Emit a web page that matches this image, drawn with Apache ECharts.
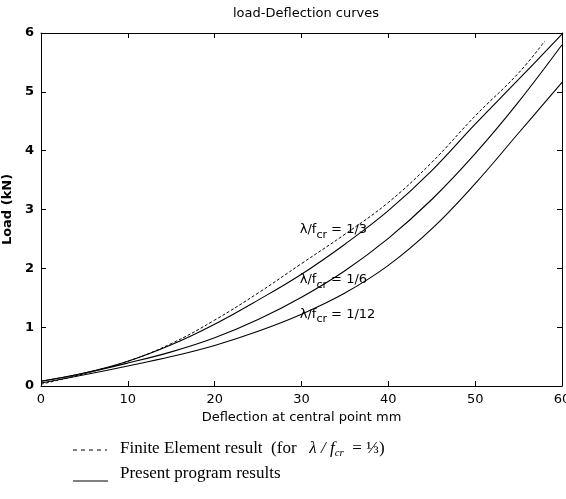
<!DOCTYPE html>
<html>
<head>
<meta charset="utf-8">
<script src="https://cdn.jsdelivr.net/npm/echarts@6/dist/echarts.min.js"></script>
<style>html,body{margin:0;padding:0;background:#fff;}#c{width:566px;height:499px;}</style>
</head>
<body>
<div id="c"></div>
<script>
// Data
const feX    = [0, 5, 10, 15, 20, 25, 30, 35, 40, 45, 50, 55, 58];
const feY    = [0.03, 0.21, 0.42, 0.72, 1.12, 1.58, 2.08, 2.58, 3.12, 3.8, 4.59, 5.32, 5.86];
const defX   = [0, 5, 10, 15, 20, 25, 30, 35, 40, 45, 50, 55, 60];
const r3Y    = [0.08, 0.22, 0.42, 0.7, 1.05, 1.46, 1.9, 2.41, 2.98, 3.66, 4.45, 5.21, 5.98];
const r6Y    = [0.08, 0.22, 0.39, 0.58, 0.82, 1.13, 1.51, 1.96, 2.51, 3.17, 3.95, 4.83, 5.8];
const r12Y   = [0.05, 0.19, 0.34, 0.5, 0.69, 0.93, 1.22, 1.58, 2.05, 2.67, 3.44, 4.3, 5.16];
const curveLabels = ['1/3', '1/6', '1/12'];
const labelAnchors = [[29.8, 2.65], [29.8, 1.8], [29.8, 1.22]];
const xTicks = [0, 10, 20, 30, 40, 50, 60];
const yTicks = [0, 1, 2, 3, 4, 5, 6];

const pair = (xs, ys) => xs.map((x, i) => [x, ys[i]]);
const chart = echarts.init(document.getElementById('c'));
const sans = 'DejaVu Sans, Liberation Sans, sans-serif';
const serif = 'Liberation Serif, DejaVu Serif, serif';

const axisCommon = {
  type: 'value',
  axisLine: { show: true, onZero: false, lineStyle: { color: '#000', width: 1 } },
  axisTick: { show: true, inside: true, length: 5, lineStyle: { color: '#000' } },
  splitLine: { show: false }
};

const lineSeries = (name, data, dashed) => ({
  name, type: 'line', data, smooth: 0.4, symbol: 'none',
  xAxisIndex: 0, yAxisIndex: 0,
  lineStyle: { color: '#000', width: dashed ? 1 : 1.1, type: dashed ? [3, 2] : 'solid' },
  z: dashed ? 3 : 2
});

chart.setOption({
  animation: false,
  title: {
    text: 'load-Deflection curves', left: 301, top: 2, textAlign: 'center',
    textStyle: { fontFamily: sans, fontSize: 13, fontWeight: 'normal', color: '#000' }
  },
  grid: { left: 41, right: 4, top: 33, bottom: 113, containLabel: false, outerBoundsMode: 'none' },
  xAxis: [
    Object.assign({}, axisCommon, {
      min: xTicks[0], max: xTicks[xTicks.length - 1], interval: 10, position: 'bottom',
      name: 'Deflection at central point mm', nameLocation: 'middle', nameGap: 21,
      nameTextStyle: { fontFamily: sans, fontSize: 13, color: '#000' },
      axisLabel: { color: '#000', fontFamily: sans, fontSize: 13, margin: 7 }
    }),
    Object.assign({}, axisCommon, {
      min: xTicks[0], max: xTicks[xTicks.length - 1], interval: 10, position: 'top',
      axisLabel: { show: false }
    })
  ],
  yAxis: [
    Object.assign({}, axisCommon, {
      min: yTicks[0], max: yTicks[yTicks.length - 1], interval: 1, position: 'left',
      name: 'Load (kN)', nameLocation: 'middle', nameGap: 23,
      nameTextStyle: { fontFamily: sans, fontSize: 13, color: '#000', fontWeight: 'bold' },
      axisLabel: { color: '#000', fontFamily: sans, fontSize: 13, margin: 7, fontWeight: 'bold' }
    }),
    Object.assign({}, axisCommon, {
      min: yTicks[0], max: yTicks[yTicks.length - 1], interval: 1, position: 'right',
      axisLabel: { show: false }
    })
  ],
  series: [
    lineSeries('Finite Element', pair(feX, feY), true),
    lineSeries('1/3', pair(defX, r3Y), false),
    lineSeries('1/6', pair(defX, r6Y), false),
    lineSeries('1/12', pair(defX, r12Y), false)
  ]
});

const graphics = [];
curveLabels.forEach((lab, i) => {
  const p = chart.convertToPixel({ xAxisIndex: 0, yAxisIndex: 0 }, labelAnchors[i]);
  graphics.push({
    type: 'text', x: p[0], y: p[1], z: 10,
    style: {
      text: '{a|λ/f}{s|cr}{a| = ' + lab + '}',
      verticalAlign: 'middle', align: 'left',
      rich: {
        a: { fontFamily: sans, fontSize: 13, fill: '#000' },
        s: { fontFamily: sans, fontSize: 11, fill: '#000', padding: [10, 0, 0, 0] }
      }
    }
  });
});
// legend block below the chart
graphics.push({ type: 'line', shape: { x1: 73, y1: 450, x2: 107, y2: 450 },
  style: { stroke: '#000', lineWidth: 1, lineDash: [4, 4] } });
graphics.push({ type: 'text', x: 120, y: 449, style: {
  text: '{t|Finite Element result  (for   }{i|λ / f}{si|cr}{t|  = ⅓)}',
  verticalAlign: 'middle',
  rich: {
    t: { fontFamily: serif, fontSize: 17, fill: '#000' },
    i: { fontFamily: serif, fontSize: 17, fontStyle: 'italic', fill: '#000' },
    si: { fontFamily: serif, fontSize: 11, fontStyle: 'italic', fill: '#000', padding: [9, 0, 0, 0] }
  } } });
graphics.push({ type: 'line', shape: { x1: 73, y1: 481, x2: 108, y2: 481 },
  style: { stroke: '#000', lineWidth: 1 } });
graphics.push({ type: 'text', x: 120, y: 474, style: {
  text: 'Present program results', verticalAlign: 'middle',
  fontFamily: serif, fontSize: 17, fill: '#000' } });
chart.setOption({ graphic: graphics });
</script>
</body>
</html>
